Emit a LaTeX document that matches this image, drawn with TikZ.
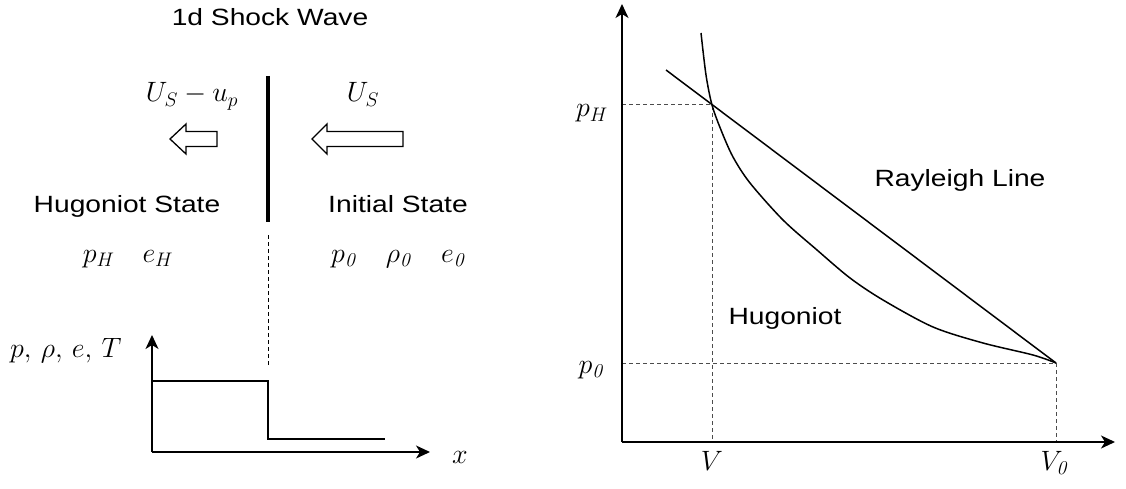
\RequirePackage{fix-cm}
\documentclass[tikz,border=0pt]{standalone}
\usepackage[no-math]{fontspec}
\setmainfont{Liberation Sans}[FakeStretch=1.2]
\usetikzlibrary{arrows.meta}

\tikzset{
  txt/.style={font=\fontsize{23.5}{28}\selectfont, inner sep=0pt, anchor=base},
  mth/.style={font=\fontsize{28}{32}\selectfont, inner sep=0pt, anchor=base},
  axis/.style={line width=1.6pt, -{Stealth[length=14pt,width=13pt,inset=4pt]}},
  curve/.style={line width=1.5pt},
  guide/.style={line width=1pt, dash pattern=on 4pt off 3pt, black!70},
  hollow/.style={line width=1.3pt, line join=miter, fill=white},
}
\newcommand{\iz}{\mathit{0}}

\begin{document}
\begin{tikzpicture}[x=1pt,y=-1pt]
\useasboundingbox (0,0) rectangle (1126,489);

% left: the shock front
\node[txt] (title) at (270,26) {1d Shock Wave};
\draw[line width=4pt] (268,76) coordinate (front top) -- (268,222) coordinate (front bot);
\draw[line width=1pt, dash pattern=on 4pt off 3pt] (268,235) coordinate (cut top) -- (268,367) coordinate (cut bot);

\node[mth] (urel) at (192,102) {$U_S - u_p$};
\node[mth] (us) at (363,102) {$U_S$};

% hollow arrows
\draw[hollow] (170,139) -- (186,124) -- (186,131.5) -- (217,131.5) -- (217,146.5) -- (186,146.5) -- (186,154) -- cycle;
\draw[hollow] (312,139) -- (327,124) -- (327,131.5) -- (403,131.5) -- (403,146.5) -- (327,146.5) -- (327,154) -- cycle;

\node[txt] (hstate) at (127,212) {Hugoniot State};
\node[txt] (istate) at (398,212) {Initial State};
\node[mth] (hvals) at (128,262) {$p_H\quad e_H$};
\node[mth] (ivals) at (399,262) {$p_{\iz}\quad \rho_{\iz}\quad e_{\iz}$};

% left: profile
\coordinate (o1) at (152,452);
\coordinate (ytip1) at (152,335);
\coordinate (xtip1) at (430,452);
\draw[axis] (o1) -- (ytip1);
\draw[axis] (o1) -- (xtip1);
\draw[curve] (152,381) -- (268,381) -- (268,439) -- (385,439);
\node[mth, anchor=base west] (qty) at (10,357) {$p,\,\rho,\,e,\,T$};
\node[mth] (xlbl) at (460,463) {$x$};

% right: p-V plane
\coordinate (o2) at (622,442);
\coordinate (ytip2) at (622,4);
\coordinate (xtip2) at (1115,442);
\coordinate (H) at (712,105);
\coordinate (I) at (1056,363);
\draw[guide] (622,105) -- (H) -- (712,442);
\draw[guide] (622,363) -- (I) -- (1056,442);
\draw[axis] (o2) -- (ytip2);
\draw[axis] (o2) -- (xtip2);

\draw[curve] (666,70) -- (I);
\draw[curve] plot[smooth, tension=0.5] coordinates {(701,33) (706,75) (H) (721,130) (733,157) (750,183) (783,220) (817,250) (850,278) (883,300) (933,327) (983,343) (1033,355) (I)};

\node[mth] (pH) at (592,117) {$p_H$};
\node[mth] (p0) at (592,373) {$p_{\iz}$};
\node[mth] (V) at (712,470) {$V$};
\node[mth] (V0) at (1055,470) {$V_{\iz}$};
\node[txt] (ray) at (960,186) {Rayleigh Line};
\node[txt] (hug) at (785,324) {Hugoniot};
\end{tikzpicture}
\end{document}
